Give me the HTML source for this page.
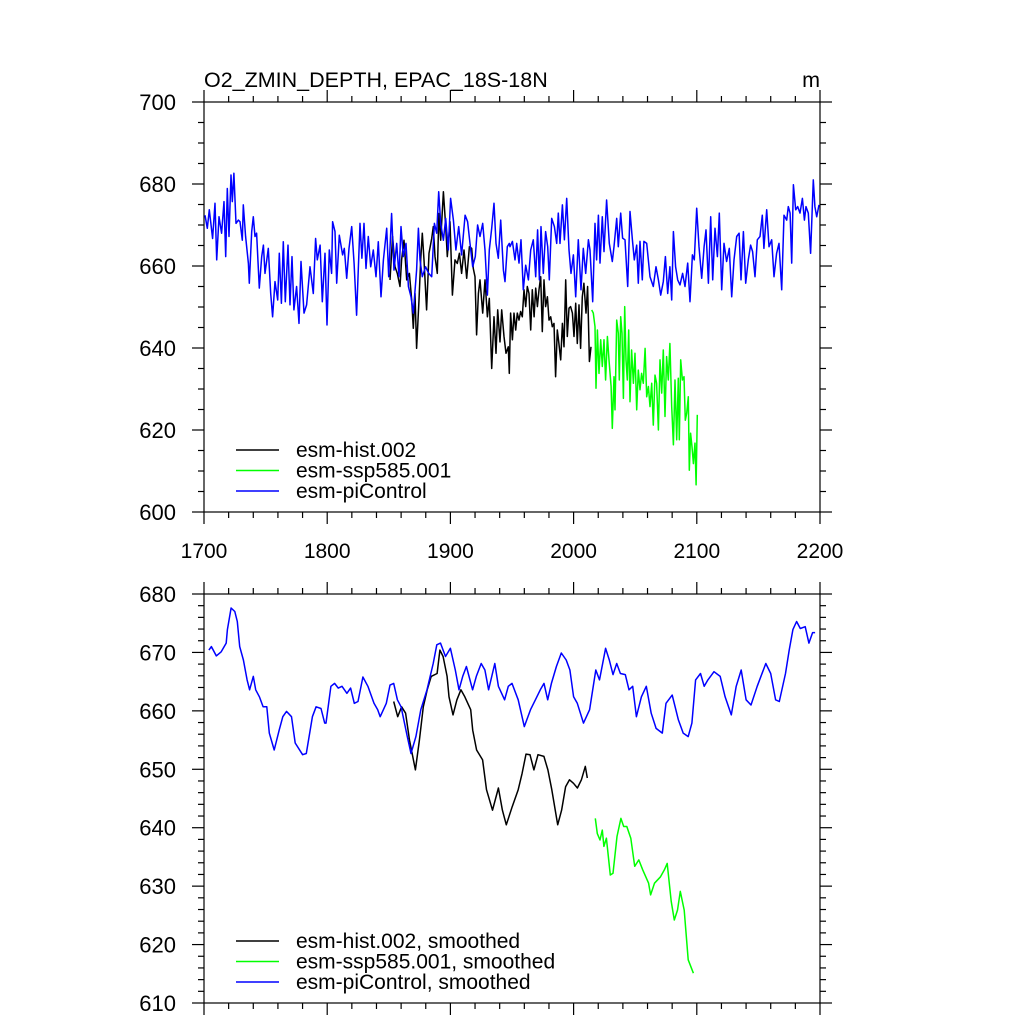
<!DOCTYPE html>
<html><head><meta charset="utf-8"><style>
html,body{margin:0;padding:0;background:#fff;}
svg{display:block;font-family:"Liberation Sans",sans-serif;}
</style></head><body>
<svg id="chart" width="1024" height="1024" viewBox="0 0 1024 1024" xmlns="http://www.w3.org/2000/svg"></svg>
<script>
// ---- data ----
const xTicks=[1700,1800,1900,2000,2100,2200];
const topYTicks=[600,620,640,660,680,700];
const botYTicks=[610,620,630,640,650,660,670,680];

const piYears=[1700.8,1702.7,1704.3,1707.0,1708.9,1710.3,1712.2,1714.3,1716.2,1717.6,1718.9,1720.3,1721.9,1723.0,1724.3,1726.0,1727.9,1729.2,1731.1,1731.9,1733.8,1736.0,1736.8,1738.7,1740.0,1741.4,1742.7,1744.9,1746.8,1748.2,1749.5,1752.2,1754.1,1755.7,1757.6,1759.8,1761.1,1762.8,1764.4,1766.0,1768.2,1769.8,1771.4,1773.0,1775.2,1777.1,1778.7,1781.2,1783.3,1786.0,1788.7,1790.6,1792.0,1794.2,1796.0,1798.2,1799.8,1801.7,1803.6,1804.4,1806.3,1807.7,1809.8,1812.5,1813.9,1815.8,1817.7,1819.9,1821.8,1823.9,1826.6,1828.2,1829.9,1831.5,1833.4,1835.3,1837.4,1839.6,1841.5,1843.7,1845.6,1848.3,1849.9,1852.3,1854.2,1856.4,1858.3,1859.9,1861.8,1864.0,1865.9,1868.0,1869.9,1872.6,1874.0,1875.3,1877.2,1879.9,1882.4,1884.8,1887.0,1888.9,1890.5,1892.1,1894.3,1896.2,1898.3,1900.2,1902.4,1904.5,1906.7,1909.1,1911.9,1914.0,1915.9,1918.1,1920.2,1922.1,1924.0,1926.2,1928.1,1930.0,1931.6,1933.5,1935.4,1937.0,1938.9,1940.8,1943.0,1944.3,1946.2,1947.8,
1948.4,1950.3,1952.4,1953.8,1955.7,1957.3,1959.2,1961.1,1963.3,1965.2,1967.3,1969.2,1970.8,1972.2,1973.5,1975.4,1977.3,1979.0,1980.3,1982.2,1984.4,1986.3,1987.6,1989.0,1990.9,1992.5,1994.4,1996.3,1997.9,1999.8,2001.7,2003.8,2006.0,2007.9,2009.8,2012.0,2013.3,2015.5,2017.4,2018.7,2020.1,2021.4,2023.3,2024.7,2026.8,2029.0,2031.4,2032.8,2035.0,2036.3,2038.2,2039.8,2041.7,2043.9,2045.8,2047.7,2049.3,2051.2,2052.5,2053.9,2055.8,2057.1,2059.3,2062.0,2064.7,2066.9,2068.8,2070.7,2072.8,2074.5,2076.4,2078.2,2079.6,2081.0,2082.8,2084.5,2086.4,2088.5,2090.4,2092.6,2094.5,2096.4,2098.0,2099.9,2101.8,2104.0,2105.9,2107.5,2109.4,2111.3,2112.9,2114.8,2116.7,2118.3,2120.2,2122.1,2124.2,2126.4,2128.3,2130.2,2132.4,2134.3,2135.9,2137.8,2139.7,2141.8,2143.7,2145.3,2147.2,2149.1,2151.3,2153.2,2154.5,2156.7,2158.6,2160.8,2162.7,2164.8,2166.7,2168.9,2170.8,2173.0,2174.3,2175.7,2177.0,2178.4,2180.3,2181.9,2183.8,2185.7,2187.3,2188.6,2190.5,2192.4,2194.6,2195.9,2197.3,2199.2];
const piValues=[672.4,669.2,673.7,666.7,675.3,661.5,672.0,668.0,675.7,662.3,678.9,667.2,682.2,675.7,682.6,670.4,671.2,670.8,666.3,674.9,667.2,660.6,655.8,668.4,672.0,667.2,668.0,654.6,662.3,665.1,658.2,664.3,653.3,647.6,656.2,651.7,663.1,650.9,665.9,651.3,665.1,650.5,662.3,649.3,655.0,646.0,661.1,648.5,650.5,659.8,653.3,666.7,661.5,665.1,651.3,663.1,645.6,663.9,658.2,670.8,668.4,655.8,667.5,662.7,664.3,657.0,664.3,669.6,660.6,648.0,670.4,661.9,670.4,659.4,667.2,659.8,663.9,657.4,665.9,652.5,661.5,669.2,657.4,672.8,659.0,665.5,657.4,669.6,662.3,665.5,655.0,652.5,648.5,659.0,669.2,661.5,657.4,659.8,658.2,657.4,670.4,668.0,678.1,670.4,666.3,671.6,663.9,676.5,671.2,663.9,669.6,662.7,672.4,670.8,665.5,659.8,662.3,670.0,667.2,670.4,663.9,652.9,663.9,669.2,675.3,665.5,661.9,671.2,659.0,656.2,664.7,665.5,
664.7,666.0,661.5,665.5,660.7,666.4,654.2,660.2,656.6,663.9,666.4,657.4,668.8,656.6,669.6,658.2,668.4,664.7,656.6,671.6,669.6,665.5,672.9,665.5,674.9,666.4,676.5,663.9,658.2,662.7,652.5,666.4,654.2,664.3,658.2,666.4,663.9,651.3,670.4,661.5,672.4,660.7,672.0,663.5,676.1,665.5,661.1,664.7,671.6,664.7,672.9,666.8,666.4,655.0,673.3,666.4,661.5,665.1,655.8,666.0,656.6,666.0,665.5,657.4,655.0,659.8,656.6,652.9,656.2,662.3,653.3,659.8,651.7,668.4,659.8,656.6,655.4,658.2,655.0,660.7,651.3,662.7,661.5,674.1,664.7,657.0,664.7,668.8,655.8,672.0,656.6,669.2,662.3,672.9,654.2,665.5,661.1,664.3,652.5,661.5,667.2,668.0,656.6,668.4,655.8,661.5,665.1,663.5,657.4,666.4,667.2,672.4,664.3,673.7,664.7,666.4,657.4,663.1,665.5,654.2,672.4,671.2,674.5,672.9,660.7,679.8,673.7,674.5,672.9,676.5,671.2,674.5,672.9,663.1,681.0,674.5,672.0,674.9];

const histYears=[1851.0,1853.1,1855.0,1856.9,1859.1,1860.4,1862.3,1864.5,1866.7,1868.6,1869.9,1871.3,1872.6,1874.5,1875.9,1877.2,1878.6,1880.7,1882.6,1884.8,1886.1,1887.5,1889.4,1890.7,1892.1,1894.3,1896.2,1897.5,1899.7,1901.6,1903.7,1905.6,1907.3,1909.1,1911.0,1913.2,1915.4,1917.3,1918.6,1920.0,1921.3,1922.7,1924.0,1926.2,1928.1,1930.0,1931.6,1933.5,1935.4,1937.0,1938.4,1940.3,1941.6,1943.5,1945.1,1947.0,1947.8,
1948.9,1950.3,1951.6,1953.0,1954.3,1955.7,1957.0,1958.4,1959.7,1961.1,1962.4,1963.8,1965.2,1966.5,1967.9,1969.2,1970.6,1971.9,1973.3,1974.6,1976.0,1977.3,1978.7,1980.0,1981.4,1982.7,1984.1,1985.4,1986.8,1988.1,1989.5,1990.9,1992.2,1993.6,1994.9,1996.3,1997.6,1999.0,2000.3,2001.7,2003.0,2004.4,2005.7,2007.1,2008.4,2010.1,2011.4,2012.8,2014.1];
const histValues=[656.6,667.2,659.8,658.2,655.0,661.5,666.3,656.6,658.2,651.7,644.8,653.3,639.9,651.7,661.5,668.0,661.5,649.3,663.1,666.7,669.6,662.3,658.2,672.8,666.3,678.1,669.6,662.3,670.8,652.9,661.5,660.6,663.1,658.2,663.9,657.0,664.7,664.3,659.4,657.4,643.2,653.3,656.6,648.5,656.6,647.6,652.1,635.0,647.6,638.7,649.3,641.5,649.3,642.8,638.7,640.3,633.8,
648.5,642.0,648.5,644.4,648.5,646.8,648.9,647.6,654.2,650.1,655.0,653.3,644.4,654.2,647.6,654.6,650.1,654.2,657.4,644.0,656.6,650.1,652.5,646.8,647.6,645.2,646.0,633.0,644.4,641.1,637.1,646.0,640.3,656.6,642.8,649.7,650.1,648.5,642.8,650.9,641.1,650.5,639.9,652.5,655.8,648.5,655.0,636.7,640.3];

const sspYears=[2014.7,2016.0,2017.4,2018.2,2019.3,2020.6,2022.0,2023.3,2024.7,2026.0,2027.4,2028.7,2030.4,2031.4,2032.8,2033.6,2035.0,2036.3,2037.1,2038.2,2039.3,2040.4,2041.5,2042.5,2043.6,2044.7,2045.8,2047.1,2048.5,2049.8,2051.2,2052.5,2053.9,2055.2,2056.6,2058.0,2059.3,2060.7,2062.0,2063.4,2064.7,2066.1,2067.4,2068.8,2070.1,2071.5,2072.8,2074.2,2075.5,2076.9,2078.2,2079.6,2081.0,2082.3,2083.7,2085.0,2085.8,2086.9,2088.3,2089.6,2090.7,2091.8,2093.1,2093.9,2095.0,2096.1,2097.2,2098.5,2099.4,2100.4];
const sspValues=[649.3,648.5,645.2,630.2,644.4,633.8,642.0,635.5,642.0,632.2,642.8,637.1,630.6,620.4,633.0,624.9,646.8,643.6,632.2,647.6,643.6,627.7,650.1,637.1,632.2,644.4,626.9,639.5,631.4,638.7,624.9,634.6,629.8,633.8,631.4,639.9,628.1,630.6,625.7,631.4,621.2,633.4,631.4,620.0,637.1,629.0,639.5,623.3,637.9,632.2,641.1,625.7,616.4,632.2,617.6,632.6,617.6,637.1,632.2,633.0,622.4,624.1,628.1,610.2,619.2,615.9,611.8,616.8,606.6,623.7];

const piSmYears=[1704,1706,1710,1714,1718,1719,1722,1725,1727,1729,1732,1735,1737,1740,1742,1745,1748,1751,1753,1757,1761,1764,1767,1771,1774,1780,1783,1788,1791,1795,1798,1799,1803,1806,1809,1812,1816,1819,1822,1825,1829,1833,1838,1841,1843,1848,1851,1854,1857,1860,1865,1868,1872,1876,1881,1886,1889,1892,1896,1900,1904,1907,1910,1913,1918,1921,1925,1928,1931,1936,1939,1944,1947,1950,1955,1960,1965,1969,1973,1976,1979,1982,1986,1990,1994,1997,2000,2003,2008,2013,2018,2021,2026,2029,2032,2035,2038,2042,2045,2048,2051,2055,2059,2063,2067,2072,2075,2080,2085,2089,2093,2096,2099,2103,2106,2109,2114,2119,2123,2128,2132,2136,2140,2144,2149,2156,2160,2164,2167,2172,2175,2178,2181,2184,2188,2191,2194,2196];
const piSmValues=[670.4,671.0,669.4,670.1,671.6,673.9,677.6,677.0,675.3,671.0,668.7,665.3,663.6,665.9,663.6,662.4,660.7,660.7,656.2,653.3,656.7,659.0,659.9,659.0,654.5,652.5,652.7,659.0,660.7,660.4,657.9,657.9,664.2,664.7,663.9,664.2,663.0,663.9,661.3,661.6,665.8,664.2,661.3,660.2,659.0,661.3,664.4,664.7,661.9,660.7,655.6,652.7,655.6,660.2,663.6,668.1,671.3,671.6,669.3,670.7,667.0,663.6,665.9,667.6,663.6,665.9,668.1,667.0,663.6,668.1,664.2,661.9,664.2,664.7,661.9,657.3,660.2,661.9,663.6,664.7,661.9,664.7,667.6,669.9,668.7,667.0,662.4,661.3,657.9,660.2,667.0,665.3,670.7,668.7,666.2,668.1,666.4,666.2,663.6,664.2,659.0,662.4,664.2,659.6,657.0,656.2,661.3,662.7,658.5,656.2,655.6,657.9,665.3,666.4,664.2,665.3,666.7,665.9,662.4,659.3,664.2,667.0,661.9,661.0,664.2,668.1,666.4,661.9,661.6,666.4,670.4,673.9,675.3,674.1,674.4,671.6,673.4,673.4];

const histSmYears=[1854,1857.2,1860.4,1863.6,1866.8,1871.6,1874.8,1878.0,1881.2,1884.4,1889.2,1891.5,1894.1,1897.3,1898.9,1902.1,1905.3,1908.5,1911.7,1916.5,1918.1,1921.3,1926.1,1929.3,1934.2,1939.0,1942.2,1945.4,1950.2,1955.0,1958.2,1961.4,1964.6,1967.8,1971.1,1975.9,1979.1,1982.3,1987.1,1990.3,1993.5,1996.7,1999.9,2003.1,2006.3,2009.5,2011.1];
const histSmValues=[661.6,659.0,660.7,659.6,655.0,649.9,655.0,660.7,663.6,665.9,666.4,670.4,669.3,665.9,662.4,659.3,661.9,663.6,662.4,660.2,656.7,653.3,651.6,646.5,643.0,646.8,643.0,640.5,643.6,646.5,649.3,652.6,652.5,649.9,652.5,652.2,649.9,646.5,640.5,643.0,647.0,648.2,647.6,646.8,648.2,650.5,648.5];

const sspSmYears=[2017.6,2019.2,2021.4,2023.3,2024.6,2026.6,2029.8,2032.0,2035.2,2038.4,2040.7,2043.2,2046.4,2049.6,2052.9,2056.1,2060.9,2062.5,2065.7,2070.5,2073.7,2076.0,2079.2,2081.7,2084.3,2086.6,2089.8,2093.0,2097.2];
const sspSmValues=[641.6,639.0,637.9,639.6,636.8,638.2,631.9,632.2,638.5,641.6,640.2,640.2,638.2,633.4,634.5,632.8,630.5,628.5,630.5,631.6,632.8,633.9,627.4,624.2,625.9,629.1,625.9,617.4,615.1];

// ---- drawing ----
const NS='http://www.w3.org/2000/svg';
const svg=document.getElementById('chart');
const X0=204,X1=820;
function xScale(yr){return X0+(yr-1700)/(2200-1700)*(X1-X0);}
function mk(tag,attrs,parent){const e=document.createElementNS(NS,tag);for(const k in attrs)e.setAttribute(k,attrs[k]);(parent||svg).appendChild(e);return e;}

function panel(name,top,bottom,ymin,ymax,yTicks,minorStep,showXLabels,series,legendY,legendLabels){
  const g=mk('g',{});
  
  
  const yS=v=>bottom-(v-ymin)/(ymax-ymin)*(bottom-top);
  const ax=mk('g',{stroke:'#000','stroke-width':'1.2',fill:'none'},g);
  
  
  mk('rect',{x:X0,y:top,width:X1-X0,height:bottom-top},ax);
  for(let yr=1700;yr<=2200;yr+=20){
    const x=xScale(yr);const major=(yr%100===0);const L=major?12:6;
    mk('line',{x1:x,y1:top,x2:x,y2:top-L},ax);
    mk('line',{x1:x,y1:bottom,x2:x,y2:bottom+L},ax);
  }
  for(let v=ymin;v<=ymax+1e-6;v+=minorStep){
    const y=yS(v);const major=yTicks.some(t=>Math.abs(t-v)<1e-6);const L=major?12:6;
    mk('line',{x1:X0,y1:y,x2:X0-L,y2:y},ax);
    mk('line',{x1:X1,y1:y,x2:X1+L,y2:y},ax);
  }
  yTicks.forEach(t=>{
    const tx=mk('text',{x:176,y:yS(t)+8,'text-anchor':'end','font-size':'22',fill:'#000'},g);
    tx.textContent=String(t);
    
    
  });
  if(showXLabels){
    xTicks.forEach(t=>{
      const tx=mk('text',{x:xScale(t),y:558,'text-anchor':'middle','font-size':'21',fill:'#000'},g);
      tx.textContent=String(t);
      
      
    });
  }
  series.forEach(s=>{
    let d='';
    for(let i=0;i<s.xs.length;i++){d+=(i?'L':'M')+xScale(s.xs[i]).toFixed(1)+','+yS(s.ys[i]).toFixed(1);}
    const p=mk('path',{d:d,fill:'none',stroke:s.color,'stroke-width':'1.5','stroke-linejoin':'round'},g);
    
    
  });
  const lg=mk('g',{},g);
  
  
  legendLabels.forEach((lab,i)=>{
    const y=legendY+i*20.5;
    mk('line',{x1:236,y1:y,x2:279,y2:y,stroke:series[i].color,'stroke-width':'1.5'},lg);
    const tx=mk('text',{x:296,y:y+7,'font-size':'21',fill:'#000'},lg);
    tx.textContent=lab;
    
    
  });
}

const t1=mk('text',{x:204,y:87,'font-size':'21.5',fill:'#000'});
t1.textContent='O2_ZMIN_DEPTH, EPAC_18S-18N';


const t2=mk('text',{x:820,y:87,'font-size':'21.5','text-anchor':'end',fill:'#000'});
t2.textContent='m';



panel('top-panel',102,512,600,700,topYTicks,5,true,[
  {name:'hist-line',xs:histYears,ys:histValues,color:'#000000'},
  {name:'ssp585-line',xs:sspYears,ys:sspValues,color:'#00ff00'},
  {name:'picontrol-line',xs:piYears,ys:piValues,color:'#0000ff'}
],450,['esm-hist.002','esm-ssp585.001','esm-piControl']);

panel('bottom-panel',594,1003,610,680,botYTicks,2,false,[
  {name:'hist-smoothed-line',xs:histSmYears,ys:histSmValues,color:'#000000'},
  {name:'ssp585-smoothed-line',xs:sspSmYears,ys:sspSmValues,color:'#00ff00'},
  {name:'picontrol-smoothed-line',xs:piSmYears,ys:piSmValues,color:'#0000ff'}
],941,['esm-hist.002, smoothed','esm-ssp585.001, smoothed','esm-piControl, smoothed']);
</script>
</body></html>
